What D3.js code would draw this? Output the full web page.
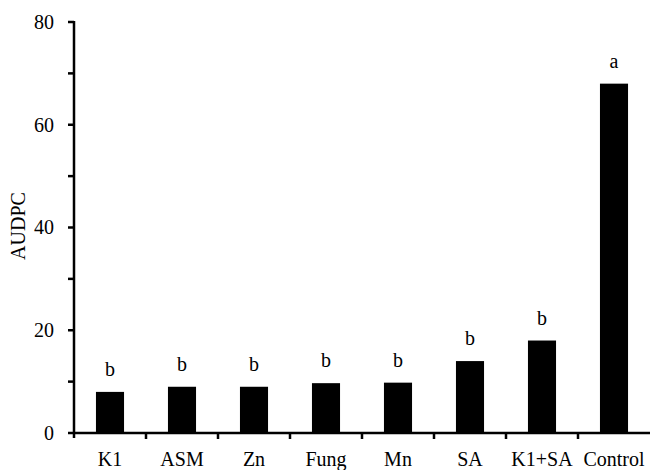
<!DOCTYPE html>
<html><head><meta charset="utf-8">
<script src="https://cdn.jsdelivr.net/npm/d3@7/dist/d3.min.js"></script>
<style>body{margin:0;background:#fff}svg{display:block}</style>
</head><body><svg id="c" width="650" height="470"></svg>
<script>
const categories = ["K1","ASM","Zn","Fung","Mn","SA","K1+SA","Control"];
const values = [8, 9, 9, 9.7, 9.8, 14, 18, 68];
const letters = ["b","b","b","b","b","b","b","a"];
const yTicks = [0, 20, 40, 60, 80];
const yMinorTicks = [10, 30, 50, 70];

const svg = d3.select("#c");
const x0 = 74, x1 = 650, yTop = 22, yBot = 433;
const x = d3.scaleBand().domain(categories).range([x0, x1]).padding(0);
const y = d3.scaleLinear().domain([0, 80]).range([yBot, yTop]);
const FF = '"Liberation Serif"';
const FS = "20px";
function txt(sel) { return sel.style("font-family", FF).style("font-size", FS).attr("fill", "#000"); }

// bars
const bw = x.bandwidth() * 0.39;
svg.selectAll("rect.bar").data(categories).enter().append("rect")
  .attr("x", d => x(d) + x.bandwidth()/2 - bw/2)
  .attr("y", (d,i) => y(values[i]))
  .attr("width", bw)
  .attr("height", (d,i) => yBot - y(values[i]))
  .attr("fill", "#000");

// letters
txt(svg.selectAll("text.lt").data(categories).enter().append("text")
  .attr("x", d => x(d) + x.bandwidth()/2)
  .attr("y", (d,i) => y(values[i]) - 16)
  .attr("text-anchor", "middle"))
  .text((d,i) => letters[i]);

// y axis
const g = svg.append("g");
g.append("line").attr("x1", x0).attr("x2", x0).attr("y1", yTop - 1).attr("y2", yBot + 5)
  .attr("stroke", "#000").attr("stroke-width", 2.5);
g.selectAll("line.yt").data(yTicks.concat(yMinorTicks)).enter().append("line")
  .attr("x1", x0 - 6).attr("x2", x0).attr("y1", d => y(d)).attr("y2", d => y(d))
  .attr("stroke", "#000").attr("stroke-width", 2.5);
txt(g.selectAll("text.yl").data(yTicks).enter().append("text")
  .attr("x", x0 - 20).attr("y", d => y(d)).attr("dy", "0.34em")
  .attr("text-anchor", "end")).text(d => d);

// x axis
g.append("line").attr("x1", x0).attr("x2", x1).attr("y1", yBot).attr("y2", yBot)
  .attr("stroke", "#000").attr("stroke-width", 2.5);
g.selectAll("line.xt").data(categories.slice(1)).enter().append("line")
  .attr("x1", d => x(d)).attr("x2", d => x(d)).attr("y1", yBot).attr("y2", yBot + 6)
  .attr("stroke", "#000").attr("stroke-width", 2.5);
txt(g.selectAll("text.xl").data(categories).enter().append("text")
  .attr("x", d => x(d) + x.bandwidth()/2).attr("y", 466)
  .attr("text-anchor", "middle")).text(d => d);

// y label
txt(svg.append("text").attr("transform", "translate(25,226) rotate(-90)")
  .attr("text-anchor", "middle")).text("AUDPC");
</script></body></html>
